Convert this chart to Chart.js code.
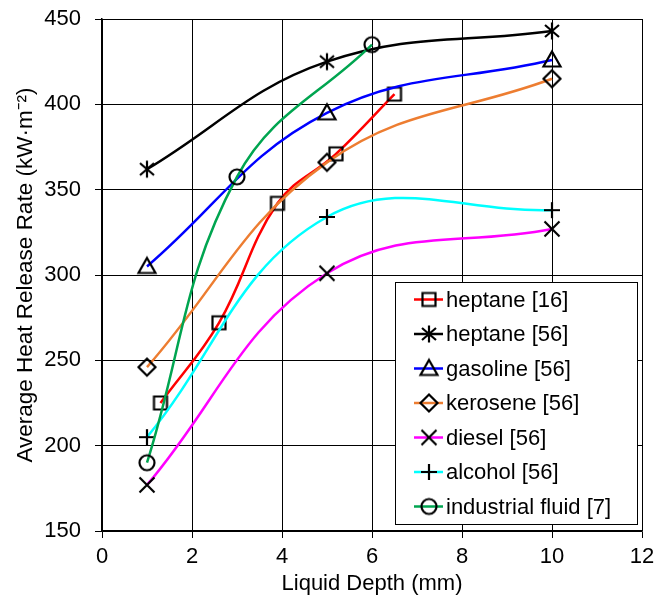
<!DOCTYPE html>
<html>
<head>
<meta charset="utf-8">
<script src="https://cdn.jsdelivr.net/npm/chart.js@4"></script>
<style>
  body { margin: 0; background: #fff; }
  #hrrChart { display: block; }
</style>
</head>
<body>
<canvas id="hrrChart" width="667" height="598"></canvas>
<script>
// liquid depth (mm) and average heat release rate (kW/m2) per fuel
const heptane16Depth = [1.3, 2.6, 3.9, 5.2, 6.5];
const heptane16Hrr = [225, 272, 342, 371, 406];
const heptane56Depth = [1, 5, 10];
const heptane56Hrr = [362, 425, 443];
const gasolineDepth = [1, 5, 10];
const gasolineHrr = [305, 395, 426];
const keroseneDepth = [1, 5, 10];
const keroseneHrr = [246, 366, 415];
const dieselDepth = [1, 5, 10];
const dieselHrr = [177, 301, 327];
const alcoholDepth = [1, 5, 10];
const alcoholHrr = [205, 334, 338];
const industrialDepth = [1, 3, 6];
const industrialHrr = [190, 357.5, 435];

const seriesNames = ['heptane [16]', 'heptane [56]', 'gasoline [56]', 'kerosene [56]',
    'diesel [56]', 'alcohol [56]', 'industrial fluid [7]'];
const xTicks = [0, 2, 4, 6, 8, 10, 12];
const yTicks = [150, 200, 250, 300, 350, 400, 450];

const FONT = '"Liberation Sans", Arial, sans-serif';

// black open markers, drawn once on small canvases and used as point styles
function makeMarker(kind) {
    const c = document.createElement('canvas');
    c.width = 24;
    c.height = 24;
    const g = c.getContext('2d');
    g.strokeStyle = '#000';
    g.lineWidth = 2.2;
    g.beginPath();
    switch (kind) {
        case 'square':
            g.rect(5.5, 5.5, 13, 13);
            break;
        case 'asterisk':
            g.moveTo(12, 3.5); g.lineTo(12, 20.5);
            g.moveTo(5, 6); g.lineTo(19, 18);
            g.moveTo(19, 6); g.lineTo(5, 18);
            break;
        case 'triangle':
            g.moveTo(12, 3.5); g.lineTo(20.5, 18.5); g.lineTo(3.5, 18.5); g.closePath();
            break;
        case 'diamond':
            g.moveTo(12, 3.5); g.lineTo(20.5, 12); g.lineTo(12, 20.5); g.lineTo(3.5, 12); g.closePath();
            break;
        case 'x':
            g.moveTo(4.5, 4.5); g.lineTo(19.5, 19.5);
            g.moveTo(19.5, 4.5); g.lineTo(4.5, 19.5);
            break;
        case 'plus':
            g.moveTo(12, 4); g.lineTo(12, 20);
            g.moveTo(4, 12); g.lineTo(20, 12);
            break;
        case 'circle':
            g.arc(12, 12, 7.5, 0, Math.PI * 2);
            break;
    }
    g.stroke();
    return c;
}

const lineColors = ['#FF0000', '#000000', '#0000FF', '#ED7D31', '#FF00FF', '#00FFFF', '#00A550'];
const markers = ['square', 'asterisk', 'triangle', 'diamond', 'x', 'plus', 'circle'].map(makeMarker);
const depths = [heptane16Depth, heptane56Depth, gasolineDepth, keroseneDepth, dieselDepth, alcoholDepth, industrialDepth];
const rates = [heptane16Hrr, heptane56Hrr, gasolineHrr, keroseneHrr, dieselHrr, alcoholHrr, industrialHrr];

const datasets = seriesNames.map((name, i) => ({
    label: name,
    data: depths[i].map((d, k) => ({ x: d, y: rates[i][k] })),
    borderColor: lineColors[i],
    borderWidth: 2.5,
    tension: 0.4,
    pointStyle: markers[i],
    pointRadius: 9,
    order: -i
}));

// boxed legend in the lower right corner of the plot, line + marker + label
const boxLegend = {
    id: 'boxLegend',
    afterDraw(chart) {
        const ctx = chart.ctx;
        const area = chart.chartArea;
        const w = 242, h = 242;
        const left = area.right - 5 - w;
        const top = area.bottom - 7 - h;
        ctx.save();
        ctx.fillStyle = '#fff';
        ctx.fillRect(left, top, w, h);
        ctx.strokeStyle = '#000';
        ctx.lineWidth = 1;
        ctx.strokeRect(left + 0.5, top + 0.5, w, h);
        ctx.font = '22px ' + FONT;
        ctx.textBaseline = 'middle';
        ctx.textAlign = 'left';
        seriesNames.forEach((name, i) => {
            const y = top + 17.5 + i * 34.5;
            ctx.strokeStyle = lineColors[i];
            ctx.lineWidth = 2.5;
            ctx.beginPath();
            ctx.moveTo(left + 19, y);
            ctx.lineTo(left + 48, y);
            ctx.stroke();
            const m = markers[i];
            ctx.drawImage(m, left + 34 - m.width / 2, y - m.height / 2);
            ctx.fillStyle = '#000';
            ctx.fillText(name, left + 51, y + 1);
        });
        ctx.restore();
    }
};

// fixed scale boxes so the plot area sits at 102..642 x 19..531
function fixX(s) {
    s.height = 67;
    s.paddingLeft = 0;
    s.paddingRight = 0;
}
function fixY(s) {
    s.width = 102;
    s.paddingTop = 0;
    s.paddingBottom = 0;
}

new Chart(document.getElementById('hrrChart'), {
    type: 'line',
    data: { datasets: datasets },
    plugins: [boxLegend],
    options: {
        responsive: false,
        animation: false,
        layout: { padding: { top: 19, right: 25, left: 0, bottom: 0 } },
        plugins: {
            legend: { display: false },
            tooltip: { enabled: false }
        },
        scales: {
            x: {
                type: 'linear',
                min: 0,
                max: 12,
                afterBuildTicks: s => { s.ticks = xTicks.map(v => ({ value: v })); },
                afterFit: fixX,
                grid: { color: '#000', lineWidth: 1, tickLength: 7, tickColor: '#000' },
                border: { color: '#000', width: 1.5 },
                ticks: { color: '#000', font: { family: FONT, size: 22 }, padding: 6, maxRotation: 0 },
                title: {
                    display: true,
                    text: 'Liquid Depth (mm)',
                    color: '#000',
                    font: { family: FONT, size: 22 },
                    padding: { top: 0, bottom: 1 }
                }
            },
            y: {
                type: 'linear',
                min: 150,
                max: 450,
                afterBuildTicks: s => { s.ticks = yTicks.map(v => ({ value: v })); },
                afterFit: fixY,
                grid: { color: '#000', lineWidth: 1, tickLength: 7, tickColor: '#000' },
                border: { color: '#000', width: 1.5 },
                ticks: { color: '#000', font: { family: FONT, size: 22 }, padding: 14 },
                title: {
                    display: true,
                    text: 'Average Heat Release Rate (kW·m⁻²)',
                    color: '#000',
                    font: { family: FONT, size: 22.5 },
                    padding: { top: 12, bottom: 0 }
                }
            }
        }
    }
});
</script>
</body>
</html>
